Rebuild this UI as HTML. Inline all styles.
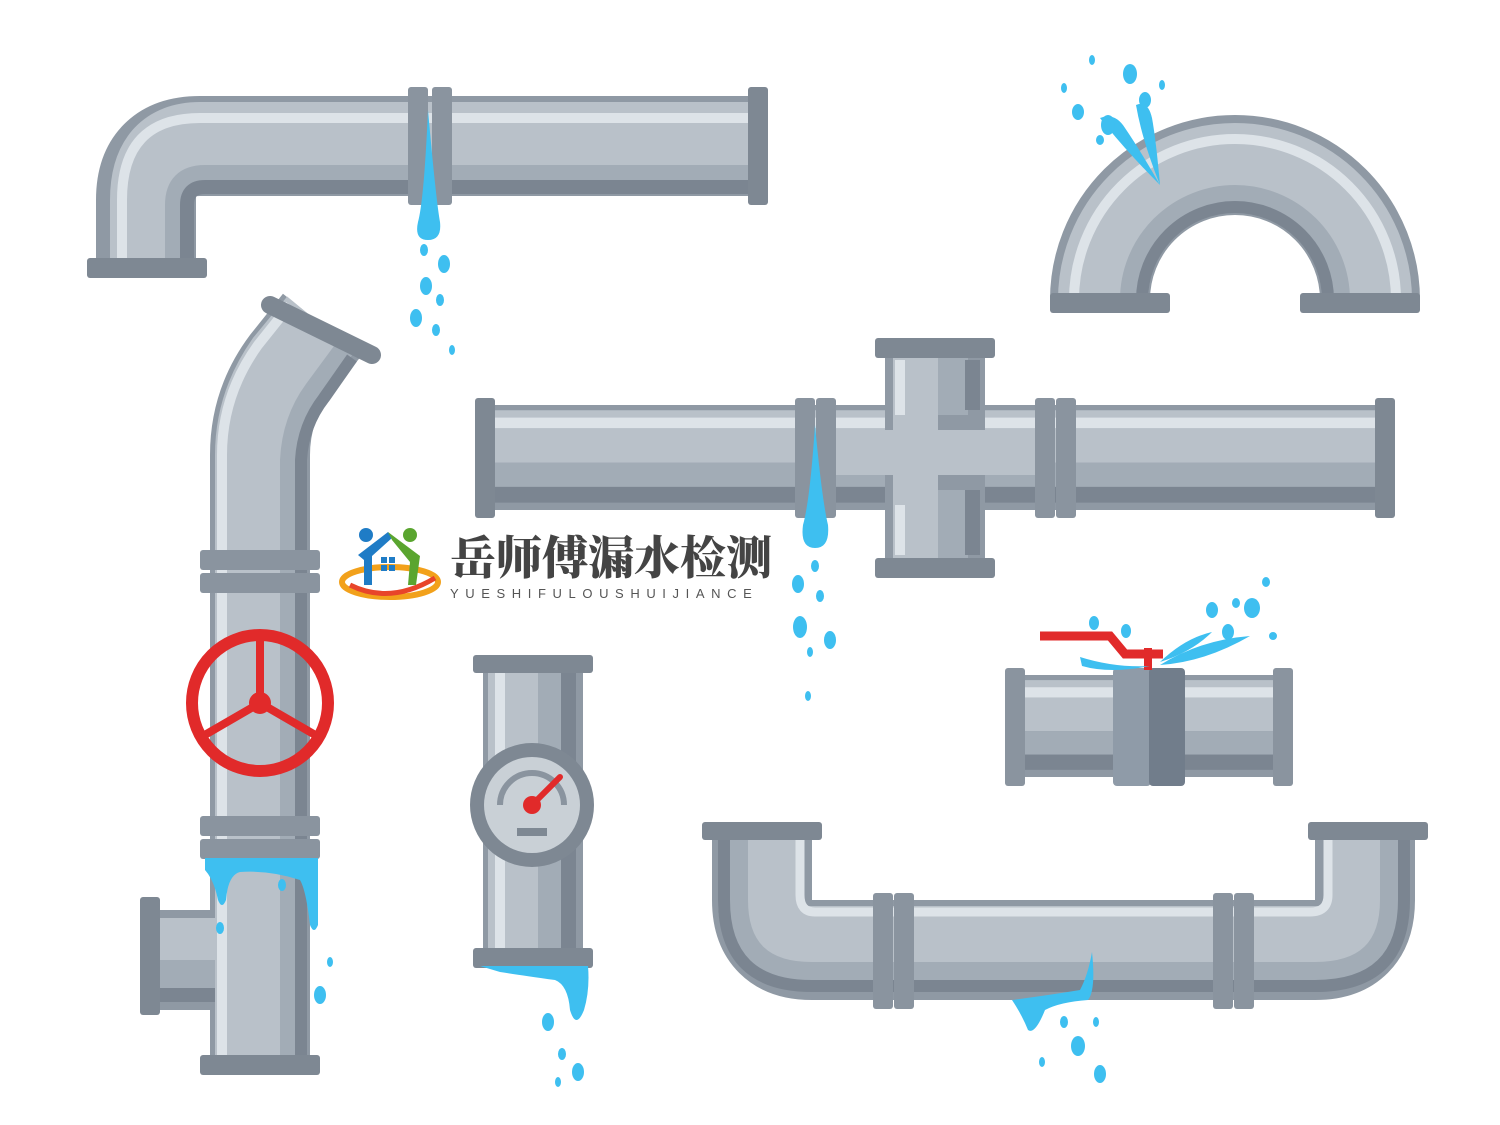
<!DOCTYPE html>
<html><head><meta charset="utf-8"><style>
html,body{margin:0;padding:0;background:#fff;width:1500px;height:1125px;overflow:hidden}
svg{display:block}
</style></head><body>
<svg width="1500" height="1125" viewBox="0 0 1500 1125" xmlns="http://www.w3.org/2000/svg">
<defs>
<g id="hp">
<rect x="0" y="0" width="100" height="100" fill="#8f99a4"/>
<rect x="0" y="5" width="100" height="50" fill="#b9c1c9"/>
<rect x="0" y="12" width="100" height="10" fill="#dde3e8"/>
<rect x="0" y="55" width="100" height="23" fill="#a2acb6"/>
<rect x="0" y="78" width="100" height="15" fill="#7b8591"/>
</g>
<g id="vp">
<rect x="0" y="0" width="100" height="100" fill="#8f99a4"/>
<rect x="5" y="0" width="50" height="100" fill="#b9c1c9"/>
<rect x="12" y="0" width="10" height="100" fill="#dde3e8"/>
<rect x="55" y="0" width="23" height="100" fill="#a2acb6"/>
<rect x="78" y="0" width="15" height="100" fill="#7b8591"/>
</g>
</defs>

<!-- ===== top-left elbow ===== -->
<path d="M750 146 H200 Q146 146 146 200 V262" fill="none" stroke="#8f99a4" stroke-width="100"/>
<path d="M750 142 H200 Q150 142 150 200 V262" fill="none" stroke="#b9c1c9" stroke-width="80"/>
<path d="M750 118 H200 Q122 118 122 200 V262" fill="none" stroke="#dde3e8" stroke-width="10"/>
<path d="M750 176 H205 Q176 176 176 205 V262" fill="none" stroke="#a2acb6" stroke-width="22"/>
<path d="M750 187 H205 Q187 187 187 205 V262" fill="none" stroke="#7b8591" stroke-width="14"/>
<rect x="87" y="258" width="120" height="20" rx="3" fill="#7e8893"/>
<rect x="408" y="87" width="20" height="118" rx="3" fill="#8a949f"/>
<rect x="432" y="87" width="20" height="118" rx="3" fill="#8a949f"/>
<rect x="748" y="87" width="20" height="118" rx="3" fill="#7e8893"/>
<path d="M428 110 Q436 200 440 222 Q442 240 428 240 Q414 240 418 222 Q424 200 428 110Z" fill="#3ebff0"/>
<g fill="#3ebff0">
<ellipse cx="424" cy="250" rx="4" ry="6"/><ellipse cx="444" cy="264" rx="6" ry="9"/>
<ellipse cx="426" cy="286" rx="6" ry="9"/><ellipse cx="440" cy="300" rx="4" ry="6"/>
<ellipse cx="416" cy="318" rx="6" ry="9"/><ellipse cx="436" cy="330" rx="4" ry="6"/><ellipse cx="452" cy="350" rx="3" ry="5"/>
</g>

<!-- ===== U-bend top right ===== -->
<path d="M1100 300 A135 135 0 0 1 1370 300" fill="none" stroke="#8f99a4" stroke-width="100"/>
<path d="M1100 300 A135 135 0 0 1 1370 300" fill="none" stroke="#b9c1c9" stroke-width="84"/>
<path d="M1074 300 A161 161 0 0 1 1396 300" fill="none" stroke="#dde3e8" stroke-width="10"/>
<path d="M1130 300 A105 105 0 0 1 1340 300" fill="none" stroke="#a2acb6" stroke-width="20"/>
<path d="M1142 300 A93 93 0 0 1 1328 300" fill="none" stroke="#7b8591" stroke-width="12"/>
<rect x="1050" y="293" width="120" height="20" rx="3" fill="#7e8893"/>
<rect x="1300" y="293" width="120" height="20" rx="3" fill="#7e8893"/>
<g fill="#3ebff0">
<path d="M1160 185 Q1125 150 1100 118 Q1115 112 1125 128 Q1140 150 1160 185Z"/>
<path d="M1160 185 Q1142 140 1136 105 Q1148 100 1152 118 Q1156 140 1160 185Z"/>
<ellipse cx="1130" cy="74" rx="7" ry="10"/><ellipse cx="1078" cy="112" rx="6" ry="8"/>
<ellipse cx="1108" cy="125" rx="7" ry="10"/><ellipse cx="1145" cy="100" rx="6" ry="8"/>
<ellipse cx="1092" cy="60" rx="3" ry="5"/><ellipse cx="1162" cy="85" rx="3" ry="5"/>
<ellipse cx="1064" cy="88" rx="3" ry="5"/><ellipse cx="1100" cy="140" rx="4" ry="5"/>
</g>

<!-- ===== left vertical pipe with valve ===== -->
<path d="M260 1060 V455 Q260 405 290 365 L322 325" fill="none" stroke="#8f99a4" stroke-width="100"/>
<path d="M255 1060 V455 Q255 405 285 362 L318 322" fill="none" stroke="#b9c1c9" stroke-width="80"/>
<path d="M222 1060 V455 Q222 395 258 345 L290 305" fill="none" stroke="#dde3e8" stroke-width="10"/>
<path d="M290 1060 V460 Q292 420 314 390 L345 348" fill="none" stroke="#a2acb6" stroke-width="20"/>
<path d="M301 1060 V460 Q303 425 324 398 L352 358" fill="none" stroke="#7b8591" stroke-width="12"/>
<line x1="270" y1="305" x2="372" y2="355" stroke="#7e8893" stroke-width="18" stroke-linecap="round"/>
<rect x="200" y="550" width="120" height="20" rx="3" fill="#8a949f"/>
<rect x="200" y="573" width="120" height="20" rx="3" fill="#8a949f"/>
<rect x="200" y="816" width="120" height="20" rx="3" fill="#8a949f"/>
<rect x="200" y="839" width="120" height="20" rx="3" fill="#8a949f"/>
<rect x="155" y="910" width="60" height="100" fill="#8f99a4"/>
<rect x="155" y="918" width="60" height="42" fill="#b9c1c9"/>
<rect x="155" y="960" width="60" height="28" fill="#a2acb6"/>
<rect x="155" y="988" width="60" height="14" fill="#7b8591"/>
<rect x="140" y="897" width="20" height="118" rx="3" fill="#7e8893"/>
<rect x="200" y="1055" width="120" height="20" rx="3" fill="#7e8893"/>
<path d="M205 858 H318 Q318 900 318 925 Q314 935 310 925 Q306 890 300 880 Q270 870 240 872 Q228 875 226 900 Q222 910 218 900 Q214 880 205 870Z" fill="#3ebff0"/>
<g fill="#3ebff0"><ellipse cx="282" cy="885" rx="4" ry="6"/><ellipse cx="220" cy="928" rx="4" ry="6"/>
<ellipse cx="330" cy="962" rx="3" ry="5"/><ellipse cx="320" cy="995" rx="6" ry="9"/></g>
<circle cx="260" cy="703" r="68" fill="none" stroke="#e12a2a" stroke-width="12"/>
<g stroke="#e12a2a" stroke-width="8"><line x1="260" y1="703" x2="260" y2="637"/><line x1="260" y1="703" x2="203" y2="736"/><line x1="260" y1="703" x2="317" y2="736"/></g>
<circle cx="260" cy="703" r="11" fill="#e12a2a"/>

<!-- ===== big cross pipe ===== -->
<use href="#hp" transform="translate(490 405) scale(9 1.05)"/>
<rect x="885" y="345" width="100" height="225" fill="#8f99a4"/>
<rect x="893" y="355" width="45" height="205" fill="#b9c1c9"/>
<rect x="895" y="360" width="10" height="55" fill="#dde3e8"/>
<rect x="895" y="505" width="10" height="50" fill="#dde3e8"/>
<rect x="938" y="355" width="30" height="60" fill="#a2acb6"/>
<rect x="965" y="360" width="15" height="50" fill="#7b8591"/>
<rect x="938" y="490" width="30" height="70" fill="#a2acb6"/>
<rect x="965" y="490" width="15" height="65" fill="#7b8591"/>
<rect x="835" y="430" width="200" height="45" fill="#b9c1c9"/>
<rect x="875" y="338" width="120" height="20" rx="3" fill="#7e8893"/>
<rect x="875" y="558" width="120" height="20" rx="3" fill="#7e8893"/>
<rect x="475" y="398" width="20" height="120" rx="3" fill="#7e8893"/>
<rect x="1375" y="398" width="20" height="120" rx="3" fill="#7e8893"/>
<rect x="795" y="398" width="20" height="120" rx="3" fill="#8a949f"/>
<rect x="816" y="398" width="20" height="120" rx="3" fill="#8a949f"/>
<rect x="1035" y="398" width="20" height="120" rx="3" fill="#8a949f"/>
<rect x="1056" y="398" width="20" height="120" rx="3" fill="#8a949f"/>
<path d="M815 425 Q822 500 828 525 Q830 548 815 548 Q800 548 803 525 Q810 500 815 425Z" fill="#3ebff0"/>
<g fill="#3ebff0"><ellipse cx="815" cy="566" rx="4" ry="6"/><ellipse cx="798" cy="584" rx="6" ry="9"/>
<ellipse cx="820" cy="596" rx="4" ry="6"/><ellipse cx="800" cy="627" rx="7" ry="11"/>
<ellipse cx="830" cy="640" rx="6" ry="9"/><ellipse cx="810" cy="652" rx="3" ry="5"/><ellipse cx="808" cy="696" rx="3" ry="5"/></g>

<!-- ===== gauge pipe ===== -->
<use href="#vp" transform="translate(483 665) scale(1 2.9)"/>
<rect x="473" y="655" width="120" height="18" rx="3" fill="#7e8893"/>
<rect x="473" y="948" width="120" height="20" rx="3" fill="#7e8893"/>
<circle cx="532" cy="805" r="62" fill="#7e8893"/>
<circle cx="532" cy="805" r="48" fill="#c9d0d6"/>
<path d="M500 805 A32 32 0 0 1 564 805" fill="none" stroke="#8a949f" stroke-width="6"/>
<line x1="532" y1="805" x2="560" y2="777" stroke="#e12a2a" stroke-width="6" stroke-linecap="round"/>
<circle cx="532" cy="805" r="9" fill="#e12a2a"/>
<rect x="517" y="828" width="30" height="8" fill="#7e8893"/>
<path d="M480 966 H588 Q590 990 584 1010 Q576 1030 570 1010 Q568 985 555 980 Q520 975 500 972Z" fill="#3ebff0"/>
<g fill="#3ebff0"><ellipse cx="548" cy="1022" rx="6" ry="9"/><ellipse cx="562" cy="1054" rx="4" ry="6"/>
<ellipse cx="578" cy="1072" rx="6" ry="9"/><ellipse cx="558" cy="1082" rx="3" ry="5"/></g>

<!-- ===== valve pipe right ===== -->
<use href="#hp" transform="translate(1020 675) scale(2.6 1.02)"/>
<rect x="1005" y="668" width="20" height="118" rx="3" fill="#8a949f"/>
<rect x="1273" y="668" width="20" height="118" rx="3" fill="#8a949f"/>
<rect x="1113" y="668" width="38" height="118" rx="4" fill="#8f9ba8"/>
<rect x="1149" y="668" width="36" height="118" rx="4" fill="#717d8b"/>
<path d="M1040 636 H1110 L1125 654 H1163" fill="none" stroke="#e12a2a" stroke-width="9"/>
<rect x="1144" y="648" width="8" height="22" fill="#e12a2a"/>
<g fill="#3ebff0">
<path d="M1080 657 Q1115 668 1150 666 Q1110 674 1082 666Z"/>
<path d="M1160 665 Q1200 640 1250 636 Q1205 662 1160 665Z"/>
<path d="M1160 662 Q1185 638 1212 632 Q1192 652 1160 662Z"/>
<ellipse cx="1094" cy="623" rx="5" ry="7"/><ellipse cx="1126" cy="631" rx="5" ry="7"/>
<ellipse cx="1212" cy="610" rx="6" ry="8"/><ellipse cx="1228" cy="632" rx="6" ry="8"/>
<ellipse cx="1252" cy="608" rx="8" ry="10"/><ellipse cx="1236" cy="603" rx="4" ry="5"/>
<ellipse cx="1266" cy="582" rx="4" ry="5"/><ellipse cx="1273" cy="636" rx="4" ry="4"/>
</g>

<!-- ===== bottom U pipe ===== -->
<path d="M762 838 V900 Q762 950 812 950 H1315 Q1365 950 1365 900 V838" fill="none" stroke="#8f99a4" stroke-width="100"/>
<path d="M758 838 V900 Q758 946 806 946 H1320 Q1369 946 1369 900 V838" fill="none" stroke="#b9c1c9" stroke-width="80"/>
<path d="M800 838 V895 Q800 912 815 912 H1310 Q1328 912 1328 895 V838" fill="none" stroke="#dde3e8" stroke-width="9"/>
<path d="M738 838 V900 Q738 972 812 972 H1315 Q1390 972 1390 900 V838" fill="none" stroke="#a2acb6" stroke-width="20"/>
<path d="M724 838 V900 Q724 986 812 986 H1315 Q1404 986 1404 900 V838" fill="none" stroke="#7b8591" stroke-width="12"/>
<rect x="702" y="822" width="120" height="18" rx="3" fill="#7e8893"/>
<rect x="1308" y="822" width="120" height="18" rx="3" fill="#7e8893"/>
<rect x="873" y="893" width="20" height="116" rx="3" fill="#8a949f"/>
<rect x="894" y="893" width="20" height="116" rx="3" fill="#8a949f"/>
<rect x="1213" y="893" width="20" height="116" rx="3" fill="#8a949f"/>
<rect x="1234" y="893" width="20" height="116" rx="3" fill="#8a949f"/>
<path d="M1092 952 Q1096 990 1088 1000 Q1060 1002 1045 1010 Q1035 1035 1028 1030 Q1022 1015 1012 1000 Q1050 995 1080 990 Q1088 975 1092 952Z" fill="#3ebff0"/>
<g fill="#3ebff0"><ellipse cx="1064" cy="1022" rx="4" ry="6"/><ellipse cx="1096" cy="1022" rx="3" ry="5"/>
<ellipse cx="1078" cy="1046" rx="7" ry="10"/><ellipse cx="1042" cy="1062" rx="3" ry="5"/>
<ellipse cx="1100" cy="1074" rx="6" ry="9"/></g>

<!-- ===== logo ===== -->
<ellipse cx="390" cy="582" rx="48" ry="15" fill="none" stroke="#f2a11b" stroke-width="6"/>
<path d="M350 585 Q390 605 435 578" fill="none" stroke="#e8452a" stroke-width="5"/>
<circle cx="366" cy="535" r="7" fill="#1f7cc6"/><circle cx="410" cy="535" r="7" fill="#5aa52f"/>
<path d="M358 555 L388 532 L392 538 L372 556 L372 585 L364 585 L364 560Z" fill="#1f7cc6"/>
<path d="M388 532 L420 556 L416 585 L408 585 L410 562 L392 540Z" fill="#5aa52f"/>
<rect x="381" y="557" width="6" height="6" fill="#1f7cc6"/><rect x="389" y="557" width="6" height="6" fill="#1f7cc6"/>
<rect x="381" y="565" width="6" height="6" fill="#1f7cc6"/><rect x="389" y="565" width="6" height="6" fill="#1f7cc6"/>
<text x="450" y="574" font-family="'Noto Serif CJK SC','Liberation Serif',serif" font-weight="900" font-size="46" fill="#444">岳师傅漏水检测</text>
<text x="450" y="598" font-family="'Liberation Sans',sans-serif" font-size="13" letter-spacing="6.6" fill="#555">YUESHIFULOUSHUIJIANCE</text>
</svg>
</body></html>
